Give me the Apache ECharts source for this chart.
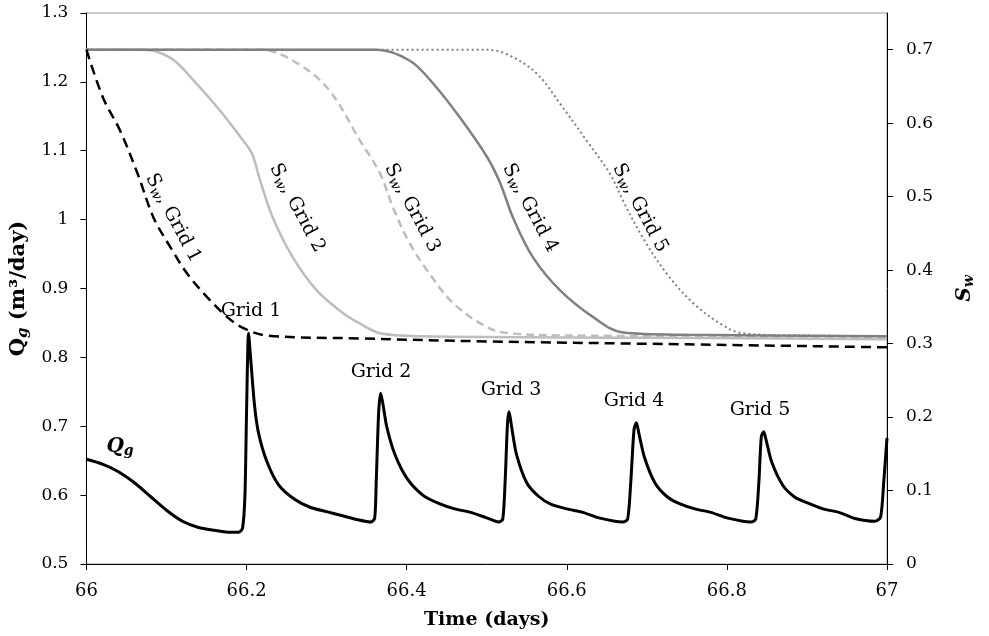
<!DOCTYPE html>
<html>
<head>
<meta charset="utf-8">
<script src="https://cdn.jsdelivr.net/npm/echarts@6/dist/echarts.min.js"></script>
<style>
  html, body { margin: 0; padding: 0; background: #fff; }
  #chart { width: 989px; height: 636px; }
</style>
</head>
<body>
<div id="chart"></div>
<script>
// Time axis ticks (days) and the two value axes
const timeTicks = [66, 66.2, 66.4, 66.6, 66.8, 67];
const qgTicks = [0.5, 0.6, 0.7, 0.8, 0.9, 1, 1.1, 1.2, 1.3];
const swTicks = [0, 0.1, 0.2, 0.3, 0.4, 0.5, 0.6, 0.7];

// Gas rate Qg (m3/day) versus time
const qgTime = [66.000, 66.020, 66.040, 66.060, 66.080, 66.100, 66.120, 66.140, 66.160, 66.180, 66.190,
  66.195, 66.198, 66.200, 66.2025, 66.205, 66.210, 66.215, 66.225, 66.240, 66.260, 66.280, 66.300, 66.320, 66.340, 66.355,
  66.360, 66.362, 66.365, 66.3675, 66.370, 66.375, 66.385, 66.400, 66.420, 66.440, 66.460, 66.480, 66.500, 66.515,
  66.520, 66.523, 66.526, 66.528, 66.531, 66.537, 66.550, 66.565, 66.580, 66.600, 66.620, 66.640, 66.670,
  66.676, 66.680, 66.684, 66.687, 66.690, 66.697, 66.710, 66.725, 66.740, 66.760, 66.780, 66.800, 66.830,
  66.836, 66.840, 66.843, 66.846, 66.849, 66.856, 66.870, 66.885, 66.900, 66.920, 66.940, 66.960, 66.985,
  66.992, 66.996, 67.000];
const qgRate = [0.652, 0.645, 0.634, 0.618, 0.598, 0.578, 0.562, 0.553, 0.549, 0.546, 0.546,
  0.552, 0.600, 0.720, 0.835, 0.800, 0.730, 0.690, 0.650, 0.615, 0.594, 0.582, 0.576, 0.570, 0.564, 0.561,
  0.566, 0.620, 0.720, 0.748, 0.735, 0.700, 0.660, 0.625, 0.600, 0.588, 0.580, 0.575, 0.567, 0.561,
  0.565, 0.620, 0.705, 0.721, 0.700, 0.660, 0.618, 0.598, 0.587, 0.580, 0.575, 0.567, 0.561,
  0.565, 0.620, 0.695, 0.705, 0.690, 0.655, 0.618, 0.598, 0.588, 0.580, 0.575, 0.567, 0.561,
  0.565, 0.620, 0.685, 0.692, 0.680, 0.648, 0.614, 0.597, 0.589, 0.580, 0.575, 0.566, 0.562,
  0.568, 0.620, 0.683];

// Water saturation Sw in each grid block versus time
const sw1Time = [66.000, 66.021, 66.042, 66.064, 66.084, 66.105, 66.126, 66.151, 66.176, 66.196, 66.226, 66.342, 66.500, 66.750, 67.000];
const sw1 = [0.700, 0.634, 0.590, 0.531, 0.471, 0.431, 0.395, 0.363, 0.336, 0.321, 0.311, 0.307, 0.303, 0.299, 0.295];

const sw2Time = [66.000, 66.071, 66.105, 66.134, 66.167, 66.196, 66.207, 66.217, 66.233, 66.258, 66.288, 66.321, 66.342, 66.367, 66.417, 66.700, 67.000];
const sw2 = [0.700, 0.700, 0.689, 0.658, 0.617, 0.576, 0.558, 0.522, 0.471, 0.417, 0.372, 0.341, 0.327, 0.314, 0.310, 0.308, 0.306];

const sw3Time = [66.000, 66.217, 66.258, 66.301, 66.342, 66.367, 66.383, 66.404, 66.426, 66.458, 66.501, 66.529, 66.600, 67.000];
const sw3 = [0.700, 0.700, 0.685, 0.648, 0.576, 0.531, 0.485, 0.436, 0.399, 0.355, 0.322, 0.314, 0.311, 0.309];

const sw4Time = [66.000, 66.363, 66.404, 66.433, 66.467, 66.501, 66.517, 66.533, 66.558, 66.592, 66.633, 66.670, 66.750, 67.000];
const sw4 = [0.700, 0.700, 0.685, 0.654, 0.607, 0.553, 0.518, 0.471, 0.417, 0.372, 0.336, 0.315, 0.312, 0.310];

const sw5Time = [66.000, 66.501, 66.529, 66.563, 66.592, 66.625, 66.654, 66.670, 66.695, 66.725, 66.758, 66.792, 66.820, 66.900, 67.000];
const sw5 = [0.700, 0.700, 0.692, 0.667, 0.626, 0.576, 0.531, 0.495, 0.444, 0.395, 0.355, 0.327, 0.314, 0.311, 0.310];

function pairs(xs, ys) { return xs.map((x, i) => [x, ys[i]]); }

const SERIF = '"DejaVu Serif", "Liberation Serif", serif';

const chart = echarts.init(document.getElementById('chart'), null, { renderer: 'canvas' });

// Rich-text styles: S with subscript w, Q with subscript g
const swRich = {
  s: { fontFamily: SERIF, fontSize: 19, color: '#000', lineHeight: 24, verticalAlign: 'middle' },
  w: { fontFamily: SERIF, fontSize: 14, fontStyle: 'italic', color: '#000', padding: [9, 0, 0, 0], verticalAlign: 'middle' },
  n: { fontFamily: SERIF, fontSize: 19, color: '#000', lineHeight: 24, verticalAlign: 'middle' }
};

function swLabel(text, x, y, rot) {
  return {
    type: 'text', x: x, y: y, rotation: rot, z: 100,
    style: {
      text: '{s|S}{w|w}{n|, ' + text + '}',
      rich: swRich, align: 'center', verticalAlign: 'middle'
    }
  };
}
function gridLabel(text, x, y) {
  return {
    type: 'text', x: x, y: y, z: 100,
    style: { text: text, fontFamily: SERIF, fontSize: 19, fill: '#000', align: 'center', verticalAlign: 'middle' }
  };
}

const ROT = -62 * Math.PI / 180;

function swSeries(name, xs, ys, line, z) {
  return {
    name: name, type: 'line', yAxisIndex: 1, data: pairs(xs, ys), showSymbol: false,
    smooth: 0.35, lineStyle: line, z: z
  };
}

const option = {
  animation: false,
  backgroundColor: '#fff',
  grid: { left: 86, right: 102, top: 13, bottom: 72, show: true, borderColor: '#999', borderWidth: 1 },
  xAxis: {
    type: 'value', min: timeTicks[0], max: timeTicks[timeTicks.length - 1], interval: 0.2,
    name: 'Time (days)', nameLocation: 'middle', nameGap: 47,
    nameTextStyle: { fontFamily: SERIF, fontWeight: 'bold', fontSize: 19, color: '#000' },
    axisLine: { lineStyle: { color: '#000', width: 1 } },
    axisTick: { show: true, length: 6, lineStyle: { color: '#000' } },
    axisLabel: { fontFamily: SERIF, fontSize: 18, color: '#000', margin: 18 },
    splitLine: { show: false }
  },
  yAxis: [
    {
      type: 'value', min: qgTicks[0], max: qgTicks[qgTicks.length - 1], interval: 0.1, position: 'left',
      name: '{q|Q}{g|g}{t| (m³/day)}', nameLocation: 'middle', nameGap: 52, nameRotate: 90,
      nameTextStyle: {
        rich: {
          q: { fontFamily: SERIF, fontWeight: 'bold', fontSize: 21, color: '#000', verticalAlign: 'middle' },
          g: { fontFamily: SERIF, fontWeight: 'bold', fontStyle: 'italic', fontSize: 15, color: '#000', padding: [9, 0, 0, 0], verticalAlign: 'middle' },
          t: { fontFamily: SERIF, fontWeight: 'bold', fontSize: 21, color: '#000', verticalAlign: 'middle' }
        }
      },
      axisLine: { show: true, lineStyle: { color: '#000', width: 1 } },
      axisTick: { show: true, length: 6, lineStyle: { color: '#000' } },
      axisLabel: { fontFamily: SERIF, fontSize: 17, color: '#000', margin: 18 },
      splitLine: { show: false }
    },
    {
      type: 'value', min: 0, max: 0.75, position: 'right',
      name: '{s|S}{w|w}', nameLocation: 'middle', nameGap: 66, nameRotate: 90,
      nameTextStyle: {
        rich: {
          s: { fontFamily: SERIF, fontWeight: 'bold', fontStyle: 'italic', fontSize: 20, color: '#000', verticalAlign: 'middle' },
          w: { fontFamily: SERIF, fontWeight: 'bold', fontStyle: 'italic', fontSize: 14, color: '#000', padding: [9, 0, 0, 0], verticalAlign: 'middle' }
        }
      },
      axisLine: { show: true, lineStyle: { color: '#000', width: 1 } },
      axisTick: { show: true, length: 6, lineStyle: { color: '#000' }, customValues: swTicks },
      axisLabel: { fontFamily: SERIF, fontSize: 17, color: '#000', margin: 19, customValues: swTicks },
      splitLine: { show: false }
    }
  ],
  series: [
    swSeries('Sw Grid 2', sw2Time, sw2, { color: '#bdbdbd', width: 2.5 }, 2),
    swSeries('Sw Grid 3', sw3Time, sw3, { color: '#bdbdbd', width: 2.5, type: [8, 5] }, 2),
    swSeries('Sw Grid 4', sw4Time, sw4, { color: '#808080', width: 2.5 }, 3),
    swSeries('Sw Grid 5', sw5Time, sw5, { color: '#808080', width: 2, type: [2, 3] }, 3),
    swSeries('Sw Grid 1', sw1Time, sw1, { color: '#000', width: 2.5, type: [10, 6] }, 4),
    {
      name: 'Qg', type: 'line', yAxisIndex: 0, data: pairs(qgTime, qgRate), showSymbol: false,
      smooth: 0.25,
      lineStyle: { color: '#000', width: 3 }, z: 5
    }
  ],
  graphic: [
    swLabel('Grid 1', 173, 218, ROT),
    swLabel('Grid 2', 297, 208, ROT),
    swLabel('Grid 3', 412, 208, ROT),
    swLabel('Grid 4', 530, 208, ROT),
    swLabel('Grid 5', 640, 208, ROT),
    gridLabel('Grid 1', 251, 311),
    gridLabel('Grid 2', 381, 372),
    gridLabel('Grid 3', 511, 390),
    gridLabel('Grid 4', 634, 401),
    gridLabel('Grid 5', 760, 410),
    {
      type: 'text', x: 120, y: 447, z: 100,
      style: {
        text: '{q|Q}{g|g}', align: 'center', verticalAlign: 'middle',
        rich: {
          q: { fontFamily: SERIF, fontWeight: 'bold', fontStyle: 'italic', fontSize: 20, color: '#000', verticalAlign: 'middle' },
          g: { fontFamily: SERIF, fontWeight: 'bold', fontStyle: 'italic', fontSize: 14, color: '#000', padding: [9, 0, 0, 0], verticalAlign: 'middle' }
        }
      }
    }
  ]
};

chart.setOption(option);
</script>
</body>
</html>
